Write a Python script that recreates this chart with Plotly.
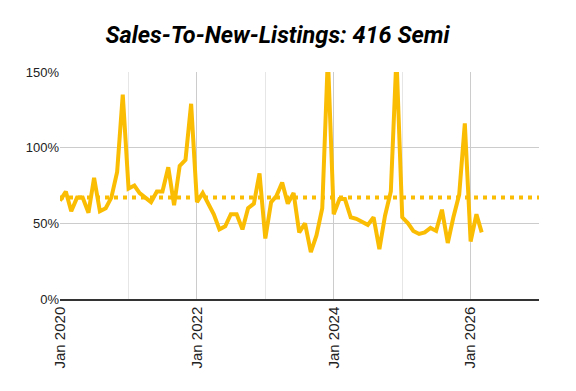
import plotly.graph_objects as go
import pandas as pd

title = "Sales-To-New-Listings: 416 Semi"
start_month = "2020-01-01"
values = [
    65, 71, 58, 67, 67, 57, 80, 58, 60, 67, 84, 135,
    73, 75, 70, 67, 64, 71, 71, 87, 62, 88, 92, 129,
    64, 70, 63, 56, 46, 48, 56, 56, 46, 60, 63, 83,
    40, 64, 68, 77, 63, 70, 44, 50, 31, 42, 60, 160,
    56, 66, 66, 54, 53, 51, 49, 54, 33, 55, 71, 160,
    54, 50, 45, 43, 44, 47, 45, 59, 37, 54, 69, 116,
    38, 56, 44,
]
average = 67
avg_span = ["2020-01-01", "2027-01-01"]
y_ticks = [0, 50, 100, 150]
y_tick_labels = ["0%", "50%", "100%", "150%"]
x_ticks = ["2020-01-01", "2022-01-01", "2024-01-01", "2026-01-01"]
x_tick_labels = ["Jan 2020", "Jan 2022", "Jan 2024", "Jan 2026"]

dates = pd.date_range(start_month, periods=len(values), freq="MS")

fig = go.Figure()
fig.add_trace(go.Scatter(
    x=avg_span, y=[average, average], mode="lines",
    line=dict(color="#FBBC04", width=4, dash="4px,5px"),
    hoverinfo="skip", showlegend=False,
))
fig.add_trace(go.Scatter(
    x=dates, y=values, mode="lines",
    line=dict(color="#FBBC04", width=4),
    showlegend=False,
))

fig.update_layout(
    width=568, height=383,
    margin=dict(l=52, r=37, t=64, b=92),
    paper_bgcolor="white", plot_bgcolor="white",
    font=dict(family="Liberation Sans, Arial", size=13, color="#333333"),
    title=dict(text="<b><i>" + title + "</i></b>", x=0.4745, xanchor="center",
               y=0.93, yanchor="middle",
               font=dict(family="Roboto", size=23.5, color="#000000")),
)
fig.update_xaxes(
    range=["2020-01-01", "2027-01-01"],
    tickvals=x_ticks, ticktext=x_tick_labels, tickangle=-90,
    showgrid=True, gridcolor="#CCCCCC", gridwidth=1,
    minor=dict(dtick="M12", showgrid=True, gridcolor="#E6E6E6", gridwidth=1),
    showline=True, linecolor="#333333", linewidth=1.5,
    ticks="", zeroline=False,
    tickfont=dict(family="Liberation Sans, Arial", size=15, color="#222222"),
)
fig.update_yaxes(
    range=[0, 150], tickvals=y_ticks, ticktext=y_tick_labels,
    showgrid=True, gridcolor="#CCCCCC", gridwidth=1,
    zeroline=False, showline=False, ticks="",
    tickfont=dict(family="Liberation Sans, Arial", size=13, color="#222222"),
)

fig.write_html("out.html")
